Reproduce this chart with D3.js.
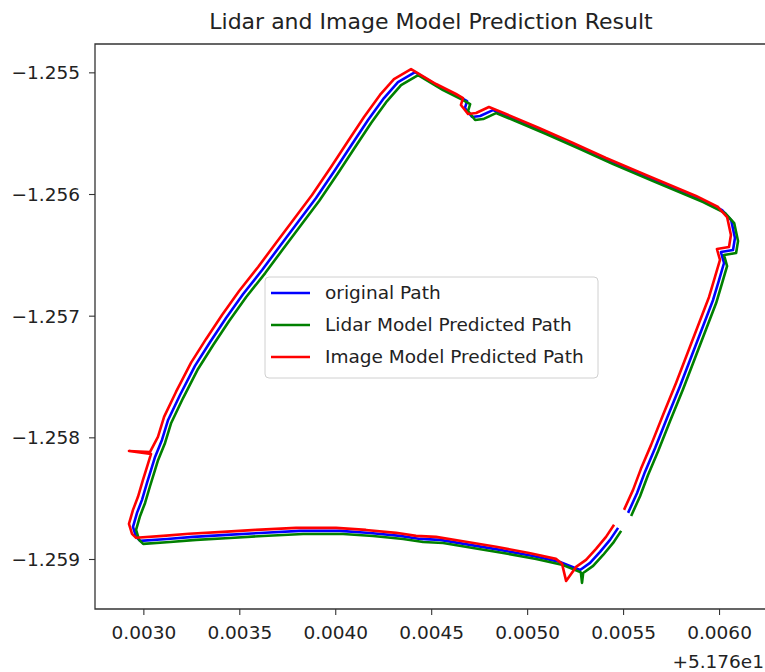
<!DOCTYPE html>
<html>
<head>
<meta charset="utf-8">
<script src="https://cdn.jsdelivr.net/npm/d3@7"></script>
<style>
  body { margin: 0; background: #fff; }
  text { font-family: "DejaVu Sans", sans-serif; fill: #222; }
</style>
</head>
<body>
<script>
// x values are offsets from 51.76 (shown as +5.176e1 on the axis)
var xOffset = 51.76;
var xTicks = [0.0030, 0.0035, 0.0040, 0.0045, 0.0050, 0.0055, 0.0060];
var yTicks = [-1.255, -1.256, -1.257, -1.258, -1.259];
var seriesNames = ["original Path", "Lidar Model Predicted Path", "Image Model Predicted Path"];
var seriesColors = ["#0000ff", "#008000", "#ff0000"];

var originalX = [0.005474, 0.005432, 0.005380, 0.005328, 0.005276, 0.005171, 0.005031, 0.004859, 0.004702, 0.004546,
  0.004442, 0.004338, 0.004181, 0.004025, 0.003817, 0.003608, 0.003436, 0.003259, 0.003124, 0.002983,
  0.002962, 0.002946, 0.002967, 0.002993, 0.003019, 0.003045, 0.003061, 0.003097, 0.003129, 0.003191,
  0.003269, 0.003348, 0.003431, 0.003520, 0.003619, 0.003712, 0.003806, 0.003900, 0.003999, 0.004088,
  0.004171, 0.004254, 0.004327, 0.004416, 0.004546, 0.004650, 0.004687, 0.004676, 0.004713, 0.004755,
  0.004822, 0.004911, 0.005083, 0.005260, 0.005432, 0.005640, 0.005901, 0.006016, 0.006063, 0.006083,
  0.006073, 0.006010, 0.006026, 0.006000, 0.005969, 0.005917, 0.005859, 0.005797, 0.005729, 0.005667,
  0.005614, 0.005573, 0.005526];
var originalY = [-1.258744, -1.258843, -1.258942, -1.259032, -1.259090, -1.259024, -1.258975, -1.258925, -1.258884, -1.258843,
  -1.258835, -1.258810, -1.258786, -1.258769, -1.258769, -1.258786, -1.258802, -1.258818, -1.258835, -1.258851,
  -1.258818, -1.258736, -1.258621, -1.258514, -1.258375, -1.258243, -1.258161, -1.258021, -1.257857, -1.257652,
  -1.257413, -1.257216, -1.257019, -1.256822, -1.256625, -1.256427, -1.256230, -1.256033, -1.255803, -1.255589,
  -1.255392, -1.255211, -1.255080, -1.254998, -1.255121, -1.255203, -1.255236, -1.255293, -1.255367, -1.255359,
  -1.255310, -1.255367, -1.255482, -1.255606, -1.255729, -1.255869, -1.256041, -1.256132, -1.256214, -1.256362,
  -1.256460, -1.256477, -1.256567, -1.256707, -1.256871, -1.257085, -1.257323, -1.257578, -1.257841, -1.258087,
  -1.258284, -1.258457, -1.258621];

var lidarX = [0.005490, 0.005448, 0.005396, 0.005344, 0.005292, 0.005286, 0.005280, 0.005187, 0.005047, 0.004875, 0.004718, 0.004562,
  0.004458, 0.004354, 0.004197, 0.004041, 0.003833, 0.003624, 0.003452, 0.003275, 0.003140, 0.002999,
  0.002978, 0.002962, 0.002983, 0.003009, 0.003035, 0.003061, 0.003077, 0.003113, 0.003145, 0.003207,
  0.003285, 0.003364, 0.003447, 0.003536, 0.003635, 0.003728, 0.003822, 0.003916, 0.004015, 0.004104,
  0.004187, 0.004270, 0.004343, 0.004432, 0.004562, 0.004666, 0.004703, 0.004692, 0.004729, 0.004771,
  0.004838, 0.004927, 0.005099, 0.005276, 0.005448, 0.005656, 0.005917, 0.006032, 0.006079, 0.006099,
  0.006089, 0.006026, 0.006042, 0.006016, 0.005985, 0.005933, 0.005875, 0.005813, 0.005745, 0.005683,
  0.005630, 0.005589, 0.005542];
var lidarY = [-1.258769, -1.258868, -1.258967, -1.259057, -1.259115, -1.259196, -1.259110, -1.259049, -1.259000, -1.258950, -1.258909, -1.258868,
  -1.258860, -1.258835, -1.258811, -1.258794, -1.258794, -1.258811, -1.258827, -1.258843, -1.258860, -1.258876,
  -1.258843, -1.258761, -1.258646, -1.258539, -1.258400, -1.258268, -1.258186, -1.258046, -1.257882, -1.257677,
  -1.257438, -1.257241, -1.257044, -1.256847, -1.256650, -1.256452, -1.256255, -1.256058, -1.255828, -1.255614,
  -1.255417, -1.255236, -1.255105, -1.255023, -1.255146, -1.255228, -1.255261, -1.255318, -1.255392, -1.255384,
  -1.255335, -1.255392, -1.255507, -1.255631, -1.255754, -1.255894, -1.256066, -1.256157, -1.256239, -1.256387,
  -1.256485, -1.256502, -1.256592, -1.256732, -1.256896, -1.257110, -1.257348, -1.257603, -1.257866, -1.258112,
  -1.258309, -1.258482, -1.258646];

var imageX = [0.005453, 0.005411, 0.005359, 0.005307, 0.005255, 0.005203, 0.005182, 0.005150, 0.005010, 0.004838, 0.004681, 0.004525,
  0.004421, 0.004317, 0.004160, 0.004004, 0.003796, 0.003587, 0.003415, 0.003238, 0.003103, 0.002962,
  0.002941, 0.002925, 0.002946, 0.002972, 0.002998, 0.003024, 0.003040, 0.002925, 0.003035, 0.003076, 0.003108, 0.003170,
  0.003248, 0.003327, 0.003410, 0.003499, 0.003598, 0.003691, 0.003785, 0.003879, 0.003978, 0.004067,
  0.004150, 0.004233, 0.004306, 0.004395, 0.004525, 0.004629, 0.004666, 0.004655, 0.004692, 0.004734,
  0.004801, 0.004890, 0.005062, 0.005239, 0.005411, 0.005619, 0.005880, 0.005995, 0.006042, 0.006062,
  0.006052, 0.005989, 0.006005, 0.005979, 0.005948, 0.005896, 0.005838, 0.005776, 0.005708, 0.005646,
  0.005593, 0.005552, 0.005505];
var imageY = [-1.258719, -1.258818, -1.258917, -1.259007, -1.259065, -1.259180, -1.259040, -1.258999, -1.258950, -1.258900, -1.258859, -1.258818,
  -1.258810, -1.258785, -1.258761, -1.258744, -1.258744, -1.258761, -1.258777, -1.258793, -1.258810, -1.258826,
  -1.258793, -1.258711, -1.258596, -1.258489, -1.258350, -1.258218, -1.258136, -1.258112, -1.258120, -1.257996, -1.257832, -1.257627,
  -1.257388, -1.257191, -1.256994, -1.256797, -1.256600, -1.256402, -1.256205, -1.256008, -1.255778, -1.255564,
  -1.255367, -1.255186, -1.255055, -1.254973, -1.255096, -1.255178, -1.255211, -1.255268, -1.255342, -1.255334,
  -1.255285, -1.255342, -1.255457, -1.255581, -1.255704, -1.255844, -1.256016, -1.256107, -1.256189, -1.256337,
  -1.256435, -1.256452, -1.256542, -1.256682, -1.256846, -1.257060, -1.257298, -1.257553, -1.257816, -1.258062,
  -1.258259, -1.258432, -1.258596];

var width = 765, height = 672;
var plot = {left: 95, top: 44, right: 767, bottom: 609};

var svg = d3.select("body").append("svg")
  .attr("width", width)
  .attr("height", height);

var x = d3.scaleLinear().domain([0.002748, 0.006250]).range([plot.left, plot.right]);
var y = d3.scaleLinear().domain([-1.259411, -1.254767]).range([plot.bottom, plot.top]);

// title
svg.append("text")
  .attr("x", (plot.left + plot.right) / 2)
  .attr("y", 29)
  .attr("text-anchor", "middle")
  .style("font-size", "22px")
  .text("Lidar and Image Model Prediction Result");

// paths
var series = [
  {xs: originalX, ys: originalY},
  {xs: lidarX, ys: lidarY},
  {xs: imageX, ys: imageY}
];
var line = d3.line().x(d => x(d[0])).y(d => y(d[1]));
var pathGroup = svg.append("g");
series.forEach(function(s, i) {
  var pts = s.xs.map((v, j) => [v, s.ys[j]]);
  pathGroup.append("path")
    .attr("d", line(pts))
    .attr("fill", "none")
    .attr("stroke", seriesColors[i])
    .attr("stroke-width", 2.6)
    .attr("stroke-linejoin", "round");
});

// axes
var xAxis = d3.axisBottom(x).tickValues(xTicks).tickSize(6).tickSizeOuter(0)
  .tickFormat(d => d3.format(".4f")(d));
var yAxis = d3.axisLeft(y).tickValues(yTicks).tickSize(6).tickSizeOuter(0)
  .tickFormat(d => d3.format(".3f")(d).replace("-", "\u2212"));

var gx = svg.append("g").attr("transform", "translate(0," + plot.bottom + ")").call(xAxis);
var gy = svg.append("g").attr("transform", "translate(" + plot.left + ",0)").call(yAxis);
[gx, gy].forEach(function(g) {
  g.select(".domain").remove();
  g.selectAll(".tick line").attr("stroke", "#333").attr("stroke-width", 1.1);
  g.selectAll(".tick text").style("font-size", "18.5px").attr("fill", "#222");
});
gx.selectAll(".tick text").attr("dy", null).attr("y", 30);
gy.selectAll(".tick text").attr("x", -15).attr("dy", "0.35em");

// frame
svg.append("path")
  .attr("d", "M" + plot.right + "," + plot.top + "H" + plot.left + "V" + plot.bottom + "H" + plot.right)
  .attr("fill", "none")
  .attr("stroke", "#333")
  .attr("stroke-width", 1.3);

// offset text
svg.append("text")
  .attr("x", 764)
  .attr("y", 668)
  .attr("text-anchor", "end")
  .style("font-size", "18.5px")
  .text("+5.176e1");

// legend
var legend = svg.append("g").attr("transform", "translate(265,277)");
legend.append("rect")
  .attr("width", 333).attr("height", 101)
  .attr("rx", 4)
  .attr("fill", "#fff").attr("fill-opacity", 0.8)
  .attr("stroke", "#d0d0d0");
seriesNames.forEach(function(name, i) {
  var cy = 16 + i * 32;
  legend.append("line")
    .attr("x1", 6).attr("x2", 45)
    .attr("y1", cy).attr("y2", cy)
    .attr("stroke", seriesColors[i]).attr("stroke-width", 2.6);
  legend.append("text")
    .attr("x", 60).attr("y", cy).attr("dy", "0.35em")
    .style("font-size", "18.5px")
    .text(name);
});
</script>
</body>
</html>
